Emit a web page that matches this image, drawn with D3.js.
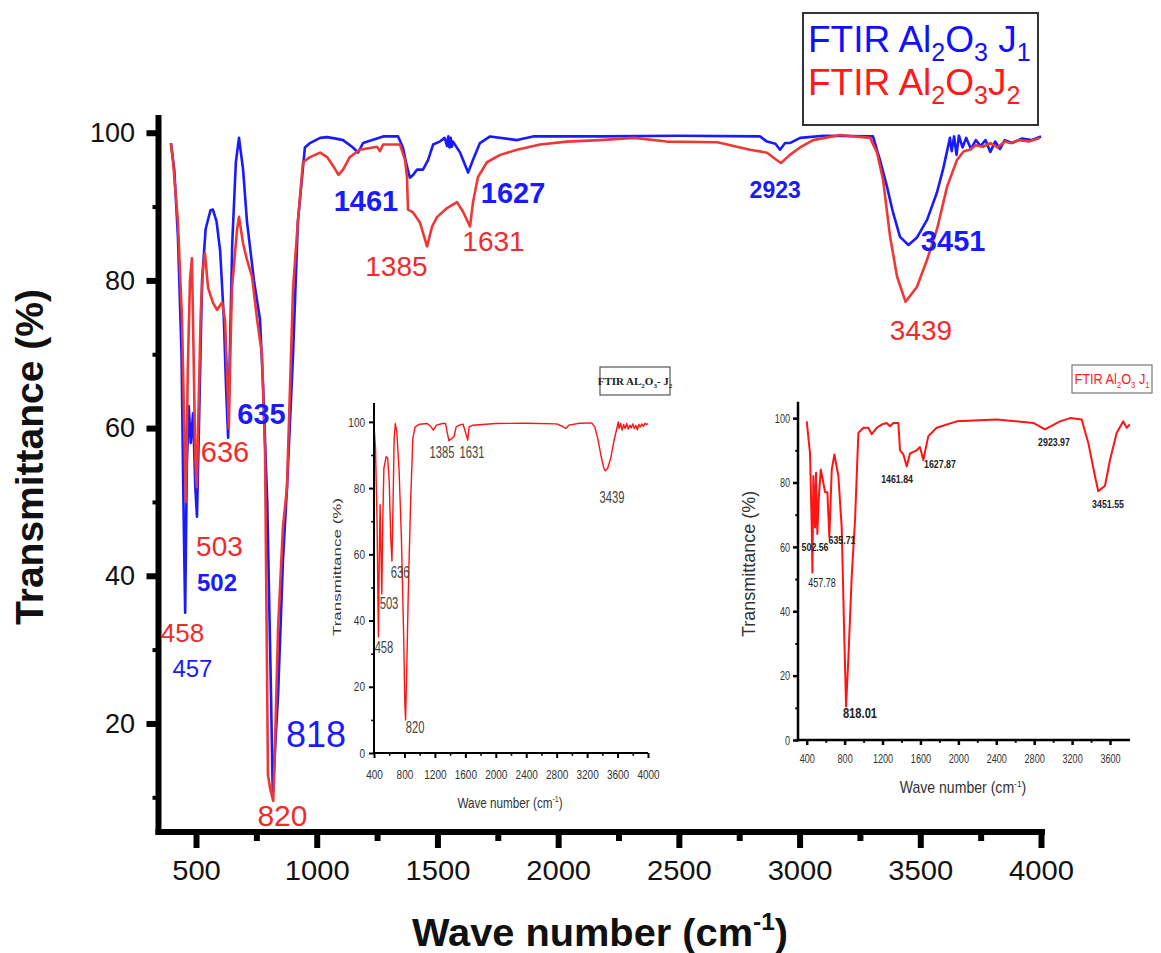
<!DOCTYPE html>
<html><head><meta charset="utf-8">
<script src="https://cdn.jsdelivr.net/npm/d3@7"></script>
<style>body{margin:0;background:#fff}svg{display:block}</style>
</head><body>
<script>
// ---------------- DATA ----------------
const j1Wave = [396,410,425,440,448,455,462,470,478,488,497,504,512,525,540,560,570,585,600,615,625,633,640,650,665,678,695,711,740,765,778,795,810,818,830,840,860,877,902,922,951,972,1014,1043,1080,1109,1150,1171,1192,1230,1275,1337,1357,1374,1386,1400,1415,1440,1461,1482,1510,1530,1540,1545,1550,1555,1560,1564,1594,1627,1647,1676,1718,1830,1896,2173,2500,2836,2865,2900,2919,2940,2960,3002,3100,3304,3333,3362,3387,3416,3451,3486,3528,3569,3594,3623,3630,3640,3650,3660,3675,3690,3710,3730,3750,3770,3790,3810,3830,3850,3880,3920,3960,4000];
const j1Trans = [98.6,95,86,70,50,35,55,63,58,62,52,48,60,80,87,89.5,89.6,88,84,75,65,58.7,70,85,96,99.3,95,88,80,74.7,65.6,50,25,10.3,18,24,42,52,70,88,98,98.6,99.3,99.4,99.2,99,98,97.3,98.6,99,99.5,99.5,98,95.4,93.9,94.3,95,95,96.3,98.4,98.8,99.3,98.2,99.5,98,99.3,98.1,98.8,97.3,94.6,96.3,98.6,99.5,99,99.5,99.5,99.6,99.5,98.8,98.5,97.7,98.6,98.6,99.3,99.6,99.5,96.3,92.7,89.2,85.9,84.8,85.8,88.2,91.9,95,99.3,97.5,99.5,97,99.6,98,99.3,97.8,99,98.2,99,97.4,98.8,97.8,99,98.6,99.2,99,99.5];

const j2Wave = [396,405,425,442,450,458,466,475,483,490,497,503,510,520,530,537,550,570,587,608,620,628,636,642,649,670,678,695,711,732,753,773,786,798,808,820,827,840,860,877,881,902,922,943,972,1014,1043,1070,1090,1109,1137,1178,1250,1262,1275,1345,1366,1374,1378,1399,1428,1457,1478,1499,1540,1581,1606,1635,1647,1668,1705,1760,1830,1925,2037,2173,2315,2450,2660,2794,2865,2905,2923,2960,3002,3056,3168,3292,3321,3346,3375,3404,3439,3486,3528,3569,3611,3652,3680,3706,3730,3760,3790,3820,3850,3872,3910,3950,3996];
const j2Trans = [98.6,96,88,74.7,62,50,68,80,83,70,56,52,62,76,82,83.7,79,77,76,77,74.7,68,60,70,79,86.9,88.6,85,82.8,80.5,74.7,70,56.6,13,11,9.5,17,33,46.6,52,56.6,79,88,96,96.7,97.3,96.7,95.4,94.3,95,96.7,97.7,98.1,97.5,98.4,98.4,96.3,93.9,89.6,89.2,87.8,84.6,87.3,88.6,89.8,90.6,89.3,87.3,90.5,94,96,97,97.7,98.4,98.8,99,99.3,98.8,98.7,97.7,97.3,96.3,95.9,97,98,99,99.7,99.3,97.3,93.6,85.9,80.5,77.1,79.1,82.8,86.9,92.7,96.3,97.5,97.7,98.3,98.1,98.6,98,98.8,98.6,99,98.8,99.3];

const inset1Wave = [400,420,440,458,470,480,490,503,515,530,560,580,600,620,636,650,665,680,700,730,760,790,805,815,830,850,880,910,940,1000,1100,1150,1180,1220,1300,1340,1360,1385,1420,1450,1480,1520,1570,1600,1631,1650,1700,2000,2400,2800,2880,2920,2960,3100,3260,3300,3340,3380,3420,3439,3470,3510,3550,3590,3610,3620,3640,3660,3680,3700,3720,3740,3760,3780,3800,3820,3840,3860,3880,3900,3920,3940,3960,3980,4000];
const inset1Trans = [99,92,70,35,60,75,62,48,70,86,89.5,89,82,65,58,75,95,99.5,97,85,65,35,15,10,25,48,75,95,98.5,99.3,99.5,98.5,97.5,99,99.5,99.5,97,94.3,95,95.5,98.5,99,99.3,97,94.5,98.5,99,99.5,99.6,99.4,98.6,98,99,99.6,99.7,98.5,95,90,86,85.2,86,89,94,98,100,98,99.5,97.5,99.2,98,99.5,97.8,99,98.2,99.4,98,99,97.6,99.2,98.5,99.4,98.6,99.6,99.2,99.5];

const inset2Wave = [400,435,453,460,470,488,498,512,527,548,569,593,618,639,664,692,734,769,794,815,839,875,910,945,998,1050,1086,1138,1191,1244,1279,1314,1367,1384,1420,1455,1490,1560,1595,1630,1683,1771,1982,2404,2791,2914,3072,3178,3301,3371,3441,3476,3547,3600,3670,3740,3775,3810];
const inset2Trans = [99,89,66,52,82,66,83,64,75,84,81,77,77,63,84,88.7,82,66,35,10.4,25,51,68.5,95.4,97,97,95,97,98,98.5,97.5,98.5,98.5,90,88.7,85,89,90,91,87,94.4,97,99,99.6,98.5,96.5,99,100,99.6,92.3,82,77.3,79,87,95.4,99,97,98];

// tick values
const mainXTicks = [500,1000,1500,2000,2500,3000,3500,4000];
const mainXMinor = [750,1250,1750,2250,2750,3250,3750];
const mainYTicks = [20,40,60,80,100];
const mainYMinor = [10,30,50,70,90];
const inset1XTicks = [400,800,1200,1600,2000,2400,2800,3200,3600,4000];
const inset1XMinor = [600,1000,1400,1800,2200,2600,3000,3400,3800];
const inset2XTicks = [400,800,1200,1600,2000,2400,2800,3200,3600];
const inset2XMinor = [600,1000,1400,1800,2200,2600,3000,3400];
const insetYTicks = [0,20,40,60,80,100];
const insetYMinor = [10,30,50,70,90];

// peak labels (text, wave number, transmittance of label anchor)
const blueLabels = ["1461","1627","2923","3451","635","502","457","818"];
const blueLabelWave = [1204,1813,2899,3636,771,587,485,997];
const blueLabelTrans = [89.4,90.5,91.2,84.0,60.6,37.9,26.3,16.8];
const redLabels = ["1385","1631","3439","636","503","458","820"];
const redLabelWave = [1330,1732,3503,620,597,444,858];
const redLabelTrans = [80.6,84.0,71.9,55.4,42.7,31.0,6.1];
const inset1Labels = ["1385","1631","3439","636","503","458","820"];
const inset1LabelWave = [1293,1688,3527,742,597,531,939];
const inset1LabelTrans = [89.1,89.1,75.5,52.9,43.5,30.2,6.0];
const inset2Labels = ["1461.84","1627.87","2923.97","3451.55","818.01","502.56","635.71","457.78"];
const inset2LabelWave = [1353,1806,3009,3579,962,488,772,561];
const inset2LabelTrans = [79.9,84.6,91.4,72.1,6.8,58.8,60.9,47.6];

// ---------------- STYLE ----------------
const SANS = '"Liberation Sans", Arial, sans-serif';
const SERIF = '"Liberation Serif", "Times New Roman", serif';
const BLUE = "#1a1aff", RED = "#ee3838", RED_TXT = "#f02b2b";

const svg = d3.select("body").append("svg").attr("width",1161).attr("height",953);
svg.append("rect").attr("width",1161).attr("height",953).attr("fill","#fff");

function addText(g, parts, x, y, o={}) {
  const t = g.append("text")
    .attr("transform", `translate(${x},${y})` + (o.rotate ? ` rotate(${o.rotate})` : "") + ` scale(${o.sx||1},${o.sy||1})`)
    .attr("font-family", o.family || SANS)
    .attr("font-size", o.size || 12)
    .attr("font-weight", o.weight || "normal")
    .attr("fill", o.fill || "#000")
    .attr("text-anchor", o.anchor || "start")
    .style("white-space", "pre");
  if (typeof parts === "string") t.text(parts);
  else parts.forEach(p => {
    const s = t.append("tspan").text(p.t);
    if (p.size) s.attr("font-size", p.size);
    if (p.dy) s.attr("dy", p.dy);
  });
  return t;
}

// ---------------- MAIN CHART ----------------
const mx = d3.scaleLinear().domain([344.6, 4000]).range([158.5, 1041]);
const my = d3.scaleLinear().domain([5.3, 102.4]).range([832, 115]);

const mainLine = d3.line().x(d => mx(d[0])).y(d => my(d[1]));
svg.append("path").datum(d3.zip(j1Wave, j1Trans)).attr("d", mainLine)
  .attr("fill","none").attr("stroke",BLUE).attr("stroke-width",2.6).attr("stroke-linejoin","round");
svg.append("path").datum(d3.zip(j2Wave, j2Trans)).attr("d", mainLine)
  .attr("fill","none").attr("stroke",RED).attr("stroke-width",2.6).attr("stroke-linejoin","round");

// axes
const gx = svg.append("g").attr("transform","translate(0,832)")
  .call(d3.axisBottom(mx).tickValues(mainXTicks).tickSize(16).tickFormat(d3.format("d")));
gx.select(".domain").remove();
gx.selectAll(".tick line").attr("stroke","#000").attr("stroke-width",6);
gx.selectAll(".tick text").attr("font-family",SANS).attr("font-size",27).attr("fill","#111")
  .attr("y",48).attr("dy",null).attr("transform","scale(1.08,1)");
const gxm = svg.append("g").attr("transform","translate(0,832)")
  .call(d3.axisBottom(mx).tickValues(mainXMinor).tickSize(9).tickFormat(""));
gxm.select(".domain").remove();
gxm.selectAll(".tick line").attr("stroke","#000").attr("stroke-width",6);

const gy = svg.append("g").attr("transform","translate(158.5,0)")
  .call(d3.axisLeft(my).tickValues(mainYTicks).tickSize(12).tickPadding(11.5));
gy.select(".domain").remove();
gy.selectAll(".tick line").attr("stroke","#000").attr("stroke-width",6);
gy.selectAll(".tick text").attr("font-family",SANS).attr("font-size",27).attr("fill","#111");
const gym = svg.append("g").attr("transform","translate(158.5,0)")
  .call(d3.axisLeft(my).tickValues(mainYMinor).tickSize(6).tickFormat(""));
gym.select(".domain").remove();
gym.selectAll(".tick line").attr("stroke","#000").attr("stroke-width",4);

svg.append("line").attr("x1",158.5).attr("x2",158.5).attr("y1",my(102.4)).attr("y2",835)
  .attr("stroke","#000").attr("stroke-width",6);
svg.append("line").attr("x1",155.5).attr("x2",1045).attr("y1",832).attr("y2",832)
  .attr("stroke","#000").attr("stroke-width",6);

// axis titles
addText(svg, "Transmittance (%)", 43, 457, {size:39, weight:"bold", anchor:"middle", rotate:-90, fill:"#111"});
addText(svg, [{t:"Wave number (cm"},{t:"-1",size:24,dy:-16},{t:")",size:39,dy:16}], 600, 946,
  {size:39, weight:"bold", anchor:"middle", fill:"#111", sx:1.02});

// peak labels
const blueStyle = [{s:29,w:"bold"},{s:29,w:"bold"},{s:23,w:"bold"},{s:29,w:"bold"},{s:29,w:"bold"},{s:24,w:"bold"},{s:24,w:"normal"},{s:36,w:"normal"}];
blueLabels.forEach((t,i) => addText(svg, t, mx(blueLabelWave[i]), my(blueLabelTrans[i]),
  {size:blueStyle[i].s, weight:blueStyle[i].w, anchor:"middle", fill:BLUE}));
const redSize = [28,28,28,29,28,26,30];
redLabels.forEach((t,i) => addText(svg, t, mx(redLabelWave[i]), my(redLabelTrans[i]),
  {size:redSize[i], anchor:"middle", fill:RED_TXT}));

// legend
svg.append("rect").attr("x",803).attr("y",13).attr("width",235).attr("height",112)
  .attr("fill","#fff").attr("stroke","#333").attr("stroke-width",2);
addText(svg, [{t:"FTIR Al"},{t:"2",size:25,dy:9},{t:"O",size:37,dy:-9},{t:"3",size:25,dy:9},{t:" J",size:37,dy:-9},{t:"1",size:25,dy:9}],
  808, 52, {size:37, fill:"#1010ff"});
addText(svg, [{t:"FTIR Al"},{t:"2",size:25,dy:9},{t:"O",size:37,dy:-9},{t:"3",size:25,dy:9},{t:"J",size:37,dy:-9},{t:"2",size:25,dy:9}],
  808, 95, {size:37, fill:"#ff1a1a"});

// ---------------- INSETS ----------------
function drawInset(c) {
  const g = svg.append("g");
  const x = d3.scaleLinear().domain(c.xDomain).range([c.left, c.right]);
  const y = d3.scaleLinear().domain(c.yDomain).range([c.bottom, c.top]);
  g.append("path").datum(d3.zip(c.wave, c.trans))
    .attr("d", d3.line().x(d => x(d[0])).y(d => y(d[1])))
    .attr("fill","none").attr("stroke","#ff1414").attr("stroke-width",c.lineW).attr("stroke-linejoin","round");

  const ax = g.append("g").attr("transform",`translate(0,${c.bottom})`)
    .call(d3.axisBottom(x).tickValues(c.xTicks).tickSize(c.tick).tickFormat(d3.format("d")));
  ax.select(".domain").remove();
  ax.selectAll(".tick line").attr("stroke","#000").attr("stroke-width",c.axisW);
  ax.selectAll(".tick text").attr("font-family",SANS).attr("font-size",c.tickFont).attr("fill","#333")
    .attr("y",c.xLabelDy).attr("dy",null).attr("transform",`scale(${c.tickSx},1)`);
  const axm = g.append("g").attr("transform",`translate(0,${c.bottom})`)
    .call(d3.axisBottom(x).tickValues(c.xMinor).tickSize(c.tick*0.55).tickFormat(""));
  axm.select(".domain").remove();
  axm.selectAll(".tick line").attr("stroke","#000").attr("stroke-width",c.axisW*0.8);

  const ay = g.append("g").attr("transform",`translate(${c.left},0)`)
    .call(d3.axisLeft(y).tickValues(c.yTicks).tickSize(c.tick).tickPadding(c.yPad));
  ay.select(".domain").remove();
  ay.selectAll(".tick line").attr("stroke","#000").attr("stroke-width",c.axisW);
  ay.selectAll(".tick text").attr("font-family",SANS).attr("font-size",c.tickFont).attr("fill","#333")
    .attr("x", -(c.tick + c.yPad) / c.tickSx).attr("transform",`scale(${c.tickSx},1)`);
  const aym = g.append("g").attr("transform",`translate(${c.left},0)`)
    .call(d3.axisLeft(y).tickValues(c.yMinor).tickSize(c.tick*0.55).tickFormat(""));
  aym.select(".domain").remove();
  aym.selectAll(".tick line").attr("stroke","#000").attr("stroke-width",c.axisW*0.8);

  g.append("line").attr("x1",c.left).attr("x2",c.left).attr("y1",c.top).attr("y2",c.bottom + c.axisW/2)
    .attr("stroke","#000").attr("stroke-width",c.axisW);
  g.append("line").attr("x1",c.left - c.axisW/2).attr("x2",c.right).attr("y1",c.bottom).attr("y2",c.bottom)
    .attr("stroke","#000").attr("stroke-width",c.axisW);

  addText(g, "Transmittance (%)", c.yTitleX, (c.top + c.bottom)/2 + c.yTitleShift,
    {size:c.yTitleSize, anchor:"middle", rotate:-90, sy:c.yTitleSy, fill:"#333"});
  addText(g, [{t:"Wave number (cm"},{t:"-1",size:c.xTitleSize*0.6,dy:-c.xTitleSize*0.4},{t:")",size:c.xTitleSize,dy:c.xTitleSize*0.4}],
    (c.left + c.right)/2 + c.xTitleShift, c.xTitleY, {size:c.xTitleSize, anchor:"middle", sx:c.xTitleSx, fill:"#333"});

  c.labels.forEach((t,i) => addText(g, t, x(c.labelWave[i]), y(c.labelTrans[i]),
    {size:c.labelStyle[i].s, weight:c.labelStyle[i].w, anchor:"middle", sx:c.labelStyle[i].sx, fill:c.labelFill}));
  return g;
}

drawInset({
  left:374, right:648, top:403, bottom:753, xDomain:[400,4000], yDomain:[0,105.7],
  wave:inset1Wave, trans:inset1Trans, lineW:1.4,
  xTicks:inset1XTicks, xMinor:inset1XMinor, yTicks:insetYTicks, yMinor:insetYMinor,
  tick:5, axisW:2, tickFont:13, tickSx:0.77, xLabelDy:26, yPad:4,
  yTitleX:341, yTitleShift:-11, yTitleSize:17, yTitleSy:0.66,
  xTitleY:808, xTitleShift:-1, xTitleSize:15, xTitleSx:0.78,
  labels:inset1Labels, labelWave:inset1LabelWave, labelTrans:inset1LabelTrans, labelFill:"#444",
  labelStyle:inset1Labels.map(() => ({s:16, w:"normal", sx:0.7}))
});

drawInset({
  left:798, right:1130, top:401.7, bottom:740, xDomain:[308,3811], yDomain:[0,105.1],
  wave:inset2Wave, trans:inset2Trans, lineW:2,
  xTicks:inset2XTicks, xMinor:inset2XMinor, yTicks:insetYTicks, yMinor:insetYMinor,
  tick:5, axisW:2.5, tickFont:13, tickSx:0.7, xLabelDy:23, yPad:3,
  yTitleX:755, yTitleShift:-7, yTitleSize:18, yTitleSy:1,
  xTitleY:793, xTitleShift:-1, xTitleSize:16, xTitleSx:0.88,
  labels:inset2Labels, labelWave:inset2LabelWave, labelTrans:inset2LabelTrans, labelFill:"#222",
  labelStyle:[{s:11,w:"bold",sx:0.8},{s:11,w:"bold",sx:0.8},{s:11,w:"bold",sx:0.8},{s:11,w:"bold",sx:0.8},
              {s:14,w:"bold",sx:0.8},{s:11,w:"bold",sx:0.8},{s:11,w:"bold",sx:0.8},{s:12,w:"normal",sx:0.75}]
});

// inset title boxes
svg.append("rect").attr("x",600).attr("y",367).attr("width",70).attr("height",28)
  .attr("fill","#fff").attr("stroke","#555").attr("stroke-width",1.2);
addText(svg, [{t:"FTIR AL"},{t:"2",size:7,dy:3},{t:"O",size:11,dy:-3},{t:"3",size:7,dy:3},{t:"- J",size:11,dy:-3},{t:"2",size:7,dy:3}],
  635, 385, {size:11, weight:"bold", family:SERIF, anchor:"middle", fill:"#222"});
svg.append("rect").attr("x",1072).attr("y",365).attr("width",80).attr("height",28)
  .attr("fill","#fff").attr("stroke","#777").attr("stroke-width",1.2);
addText(svg, [{t:"FTIR Al"},{t:"2",size:9,dy:4},{t:"O",size:15,dy:-4},{t:"3",size:9,dy:4},{t:" J",size:15,dy:-4},{t:"1",size:9,dy:4}],
  1112, 384, {size:15, anchor:"middle", sx:0.85, fill:"#ff1a1a"});
</script>
</body></html>
